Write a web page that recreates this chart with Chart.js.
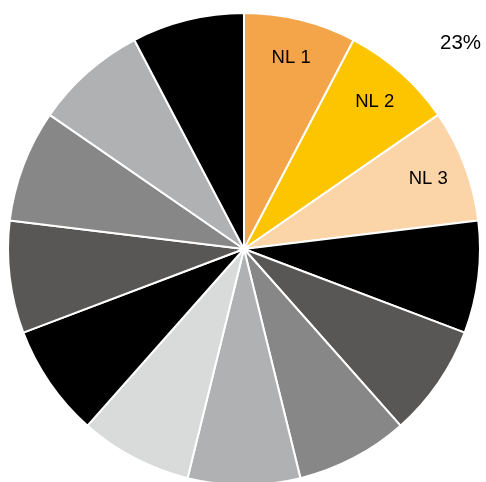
<!DOCTYPE html>
<html>
<head>
<meta charset="utf-8">
<script src="https://cdn.jsdelivr.net/npm/chart.js@4/dist/chart.umd.min.js"></script>
<style>
  html, body { margin: 0; padding: 0; background: #fff; overflow: hidden; }
  #wrap { width: 486px; height: 482px; overflow: hidden; position: relative; }
  canvas { display: block; }
</style>
</head>
<body>
<div id="wrap"><canvas id="c" width="486" height="490"></canvas></div>
<script>
const categories = ["NL 1", "NL 2", "NL 3", "", "", "", "", "", "", "", "", "", ""];
const values = [1, 1, 1, 1, 1, 1, 1, 1, 1, 1, 1, 1, 1];
const sliceColors = ["#F4A54A", "#FDC400", "#FBD4A7", "#000000", "#585755", "#878787", "#B0B1B3", "#D9DBDA", "#000000", "#585755", "#878787", "#B0B1B3", "#000000"];
const shareLabel = "23%";

const labelPlugin = {
  id: 'sliceLabels',
  afterDatasetsDraw(chart) {
    const ctx = chart.ctx;
    const meta = chart.getDatasetMeta(0);
    ctx.save();
    ctx.fillStyle = '#000';
    ctx.textAlign = 'center';
    ctx.textBaseline = 'middle';
    let cx = 0, cy = 0, R = 0;
    ctx.font = '18.5px "Liberation Sans", Arial, sans-serif';
    meta.data.forEach((arc, i) => {
      const p = arc.getProps(['x', 'y', 'startAngle', 'endAngle', 'outerRadius']);
      cx = p.x; cy = p.y; R = p.outerRadius;
      const txt = categories[i];
      if (!txt) return;
      const mid = (p.startAngle + p.endAngle) / 2;
      const r = p.outerRadius * 0.835;
      ctx.fillText(txt, p.x + Math.cos(mid) * r, p.y + Math.sin(mid) * r);
    });
    // share label outside the highlighted group
    ctx.font = '20.5px "Liberation Sans", Arial, sans-serif';
    const a = -Math.PI / 2 + 46.5 * Math.PI / 180;
    const rr = R * 1.265;
    ctx.fillText(shareLabel, cx + Math.cos(a) * rr, cy + Math.sin(a) * rr);
    ctx.restore();
  }
};

new Chart(document.getElementById('c'), {
  type: 'pie',
  data: {
    labels: categories,
    datasets: [{
      data: values,
      backgroundColor: sliceColors,
      borderColor: '#ffffff',
      borderWidth: 2
    }]
  },
  options: {
    responsive: false,
    animation: false,
    devicePixelRatio: 1,
    layout: { padding: { left: 7, right: 5, top: 11, bottom: 3 } },
    plugins: {
      legend: { display: false },
      tooltip: { enabled: false }
    }
  },
  plugins: [labelPlugin]
});
</script>
</body>
</html>
